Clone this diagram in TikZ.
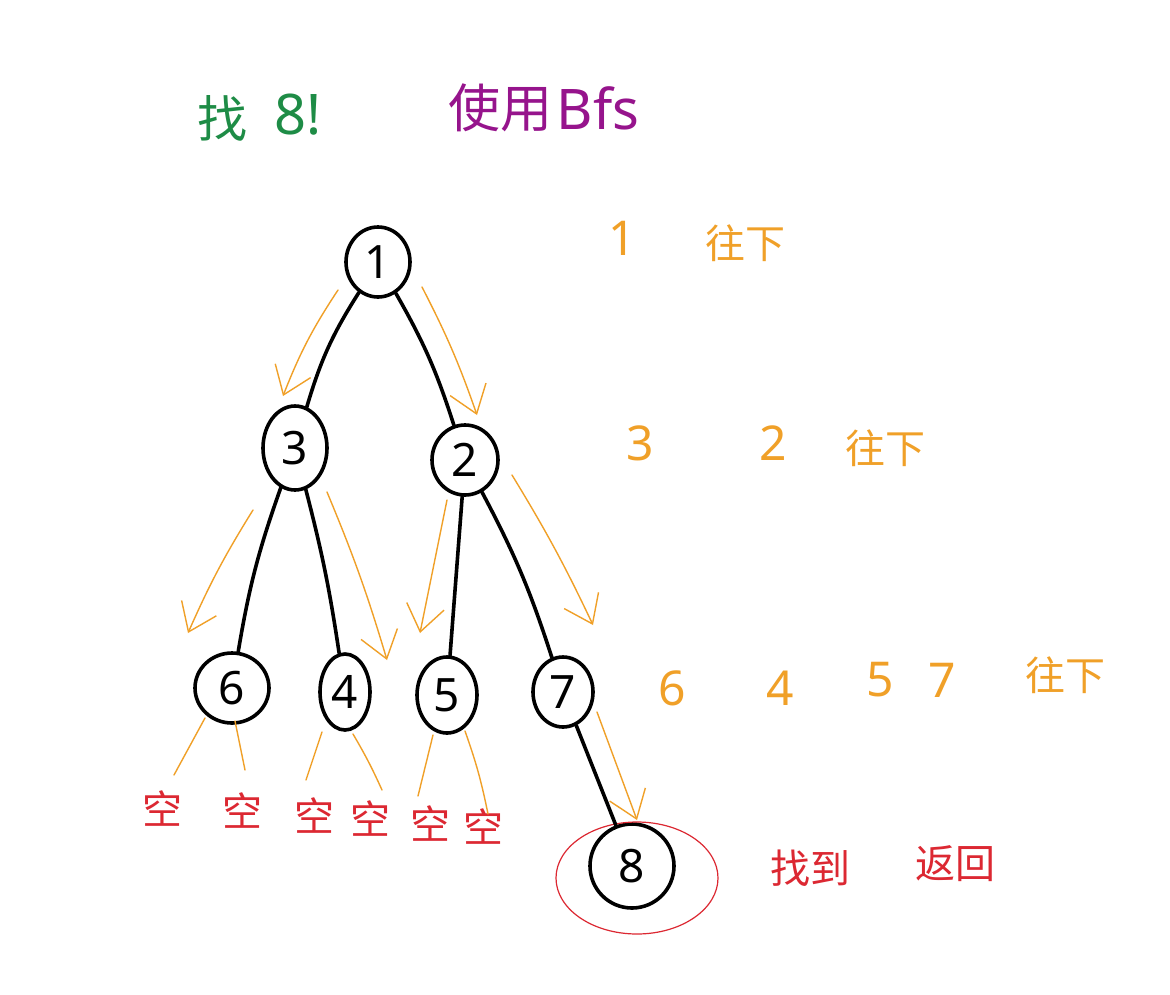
\documentclass[tikz,border=0pt]{standalone}
\usepackage{fontspec}
\newfontfamily\cjk{Noto Sans CJK SC}
\setmainfont{Noto Sans}
\usetikzlibrary{shapes.geometric,arrows.meta,calc}
\definecolor{hgreen}{RGB}{30,140,70}
\definecolor{hpurple}{RGB}{150,20,140}
\definecolor{horange}{RGB}{240,160,40}
\definecolor{hred}{RGB}{220,40,50}
\begin{document}
\begin{tikzpicture}[x=1pt,y=-1pt,
  tnode/.style={ellipse,draw=black,line width=3.6pt,inner sep=0pt,font=\fontsize{46}{46}\selectfont},
  tedge/.style={line width=3.6pt,black,line cap=round},
  oarrow/.style={line width=1.4pt,horange,line cap=round,-{Straight Barb[length=26pt,width=38pt,line width=1.4pt]}},
  oline/.style={line width=1.4pt,horange,line cap=round},
  otext/.style={text=horange,font=\fontsize{48}{48}\selectfont},
  ocjk/.style={text=horange,font=\cjk\fontsize{40}{40}\selectfont},
  rcjk/.style={text=hred,font=\cjk\fontsize{40}{40}\selectfont}]
\useasboundingbox (0,0) rectangle (1170,994);
\fill[white] (0,0) rectangle (1170,994);
% title
\node[text=hgreen,font=\cjk\fontsize{50}{50}\selectfont] (t1) at (222,118) {找};
\node[text=hgreen,font=\fontsize{56}{56}\selectfont] (t2) at (298,115) {8!};
\node[text=hpurple,font=\cjk\fontsize{52}{52}\selectfont] (t3) at (500,108) {使用};
\node[text=hpurple,font=\fontsize{56}{56}\selectfont] (t4) at (598,108) {Bfs};
% tree nodes
\node[tnode,minimum width=64pt,minimum height=70pt] (n1) at (378,262) {1};
\node[tnode,minimum width=64pt,minimum height=84pt] (n3) at (295,448) {3};
\node[tnode,minimum width=66pt,minimum height=70pt] (n2) at (465,460) {2};
\node[tnode,minimum width=74pt,minimum height=70pt] (n6) at (232,688) {6};
\node[tnode,minimum width=50pt,minimum height=76pt] (n4) at (345,692) {4};
\node[tnode,minimum width=60pt,minimum height=76pt] (n5) at (447,695) {5};
\node[tnode,minimum width=60pt,minimum height=70pt] (n7) at (563,692) {7};
\node[tnode,minimum width=84pt,minimum height=84pt] (n8) at (632,866) {8};
\node[ellipse,draw=hred,line width=1.2pt,minimum width=162pt,minimum height=112pt] (r8) at (637,878) {};
% black edges
\draw[tedge] (n1) to[bend right=8] (n3);
\draw[tedge] (n1) to[bend left=6] (n2);
\draw[tedge] (n3) to[bend right=5] (n6);
\draw[tedge] (n3) to[bend left=3] (n4);
\draw[tedge] (n2) to (n5);
\draw[tedge] (n2) to[bend left=5] (n7);
\draw[tedge] (n7) to (n8);
% orange traversal arrows
\coordinate (a1s) at ($(n1)+(-40,28)$); \coordinate (a1e) at ($(n3)+(-12,-52)$);
\coordinate (a2s) at ($(n1)+(44,25)$);  \coordinate (a2e) at ($(n2)+(12,-45)$);
\coordinate (a3s) at ($(n3)+(-42,62)$); \coordinate (a3e) at ($(n6)+(-44,-55)$);
\coordinate (a4s) at ($(n3)+(32,44)$);  \coordinate (a4e) at ($(n4)+(42,-32)$);
\coordinate (a5s) at ($(n2)+(-18,40)$); \coordinate (a5e) at ($(n5)+(-27,-62)$);
\coordinate (a6s) at ($(n2)+(47,15)$);  \coordinate (a6e) at ($(n7)+(30,-67)$);
\coordinate (a7s) at ($(n7)+(34,20)$);  \coordinate (a7e) at ($(n8)+(5,-46)$);
\draw[oarrow] (a1s) to[bend right=6] (a1e);
\draw[oarrow] (a2s) to[bend left=4] (a2e);
\draw[oarrow] (a3s) to[bend right=4] (a3e);
\draw[oarrow] (a4s) to[bend left=3] (a4e);
\draw[oarrow] (a5s) to (a5e);
\draw[oarrow] (a6s) to[bend left=3] (a6e);
\draw[oarrow] (a7s) to (a7e);
% empty labels
\node[rcjk] (e1) at (162,808) {空};
\node[rcjk] (e2) at (242,810) {空};
\node[rcjk] (e3) at (314,815) {空};
\node[rcjk] (e4) at (370,818) {空};
\node[rcjk] (e5) at (430,823) {空};
\node[rcjk] (e6) at (483,826) {空};
\draw[oline] ($(n6)+(-27,30)$) -- ($(e1)+(12,-33)$);
\draw[oline] ($(n6)+(3,33)$) -- ($(e2)+(3,-40)$);
\draw[oline] ($(n4)+(-23,40)$) -- ($(e3)+(-8,-35)$);
\draw[oline] ($(n4)+(8,42)$) to[bend left=3] ($(e4)+(12,-28)$);
\draw[oline] ($(n5)+(-14,40)$) -- ($(e5)+(-12,-27)$);
\draw[oline] ($(n5)+(18,36)$) to[bend left=4] ($(e6)+(5,-12)$);
% right-side annotations
\node[otext] (l1a) at (622,238) {1};
\node[ocjk] (l1b) at (745,243) {往下};
\node[otext] (l2a) at (640,443) {3};
\node[otext] (l2b) at (773,443) {2};
\node[ocjk] (l2c) at (885,448) {往下};
\node[otext] (l3a) at (672,688) {6};
\node[otext] (l3b) at (780,688) {4};
\node[otext] (l3c) at (880,680) {5};
\node[otext] (l3d) at (942,680) {7};
\node[ocjk] (l3e) at (1065,675) {往下};
\node[rcjk] (f1) at (810,868) {找到};
\node[rcjk] (f2) at (955,864) {返回};
\end{tikzpicture}
\end{document}
